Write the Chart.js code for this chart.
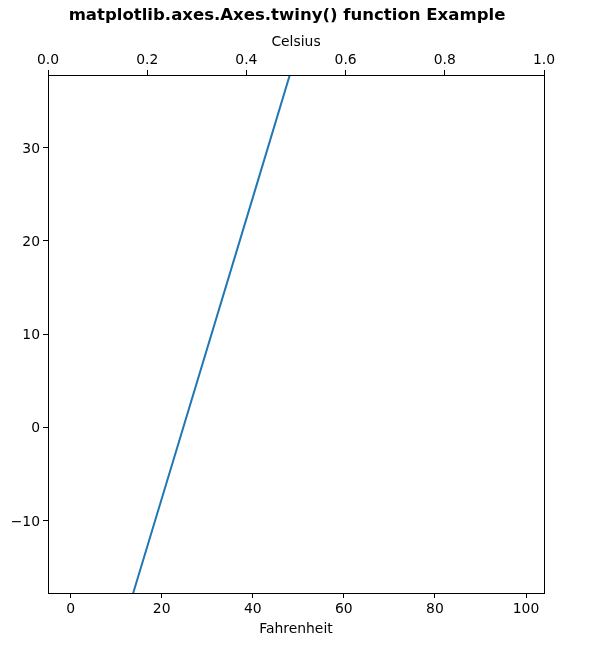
<!DOCTYPE html>
<html>
<head>
<meta charset="utf-8">
<script src="https://cdn.jsdelivr.net/npm/chart.js@4"></script>
<style>
  html, body { margin: 0; padding: 0; background: #ffffff; }
  #wrap { width: 591px; height: 651px; }
</style>
</head>
<body>
<div id="wrap"><canvas id="c" width="591" height="651"></canvas></div>
<script>
// ---- data ----
const fahrenheitX = [0, 20, 40, 60, 80, 99];
const lineValues = [-40, -7.7, 24.6, 57.0, 89.3, 120];
const bottomTicks = [0, 20, 40, 60, 80, 100];
const topTicks = [0.0, 0.2, 0.4, 0.6, 0.8, 1.0];
const leftTicks = [-10, 0, 10, 20, 30];
const xRange = [-4.95, 103.95];
const topRange = [0, 1];
const yRange = [-17.78, 37.78];

const FONT = "'DejaVu Sans', sans-serif";
const TICK_FONT = { family: FONT, size: 13.9 };

const points = fahrenheitX.map((x, i) => ({ x: x, y: lineValues[i] }));

const frame = {
  id: 'frame',
  afterDatasetsDraw(chart) {
    const a = chart.chartArea, ctx = chart.ctx;
    ctx.save();
    ctx.strokeStyle = '#000';
    ctx.lineWidth = 1;
    ctx.strokeRect(Math.round(a.left) + 0.5, Math.round(a.top) + 0.5,
                   Math.round(a.right - a.left), Math.round(a.bottom - a.top));
    ctx.restore();
  }
};

function tickSetter(arr) {
  return axis => { axis.ticks = arr.map(v => ({ value: v })); };
}
const gridOpts = { display: true, drawOnChartArea: false, drawTicks: true, tickLength: 5, color: '#000', lineWidth: 1 };

new Chart(document.getElementById('c'), {
  type: 'line',
  data: {
    datasets: [{
      data: points,
      borderColor: '#1f77b4',
      borderWidth: 2,
      pointRadius: 0,
      tension: 0,
      fill: false,
      clip: 0,
      xAxisID: 'x',
      yAxisID: 'y'
    }]
  },
  options: {
    responsive: false,
    animation: false,
    devicePixelRatio: 1,
    layout: { padding: { left: 0, right: 17, top: 0, bottom: 0 } },
    plugins: {
      legend: { display: false },
      tooltip: { enabled: false },
      title: {
        display: true,
        text: 'matplotlib.axes.Axes.twiny() function Example',
        color: '#000',
        font: { family: FONT, size: 16.55, weight: 'bold', lineHeight: 1 },
        padding: { top: 7, bottom: 3 }
      }
    },
    scales: {
      x: {
        type: 'linear', position: 'bottom', axis: 'x',
        min: xRange[0], max: xRange[1],
        afterBuildTicks: tickSetter(bottomTicks),
        afterFit: a => { a.height = 58; },
        grid: gridOpts,
        border: { display: false },
        ticks: { color: '#000', font: TICK_FONT, padding: 3, maxRotation: 0, autoSkip: false },
        title: { display: true, text: 'Fahrenheit', color: '#000', font: TICK_FONT, padding: { top: 2, bottom: 13 } }
      },
      xTop: {
        type: 'linear', position: 'top', axis: 'x',
        min: topRange[0], max: topRange[1],
        afterBuildTicks: tickSetter(topTicks),
        afterFit: a => { a.height = 75 - 26.55; },
        grid: gridOpts,
        border: { display: false },
        ticks: { color: '#000', font: TICK_FONT, padding: 1, maxRotation: 0, autoSkip: false,
                 callback: v => Number(v).toFixed(1) },
        title: { display: true, text: 'Celsius', color: '#000', font: TICK_FONT, padding: { top: 7.5, bottom: 0 } }
      },
      y: {
        type: 'linear', position: 'left', axis: 'y',
        min: yRange[0], max: yRange[1],
        afterBuildTicks: tickSetter(leftTicks),
        afterFit: a => { a.width = 48; },
        grid: gridOpts,
        border: { display: false },
        ticks: { color: '#000', font: TICK_FONT, padding: 3, autoSkip: false, labelOffset: 1.5,
                 callback: v => (v < 0 ? '\u2212' + Math.abs(v) : String(v)) }
      },
      yRightSpacer: {
        type: 'linear', position: 'right', axis: 'y',
        min: 0, max: 1,
        afterFit: a => { a.width = 30; },
        grid: { display: false, drawTicks: false },
        border: { display: false },
        ticks: { display: false }
      }
    }
  },
  plugins: [frame]
});
</script>
</body>
</html>
